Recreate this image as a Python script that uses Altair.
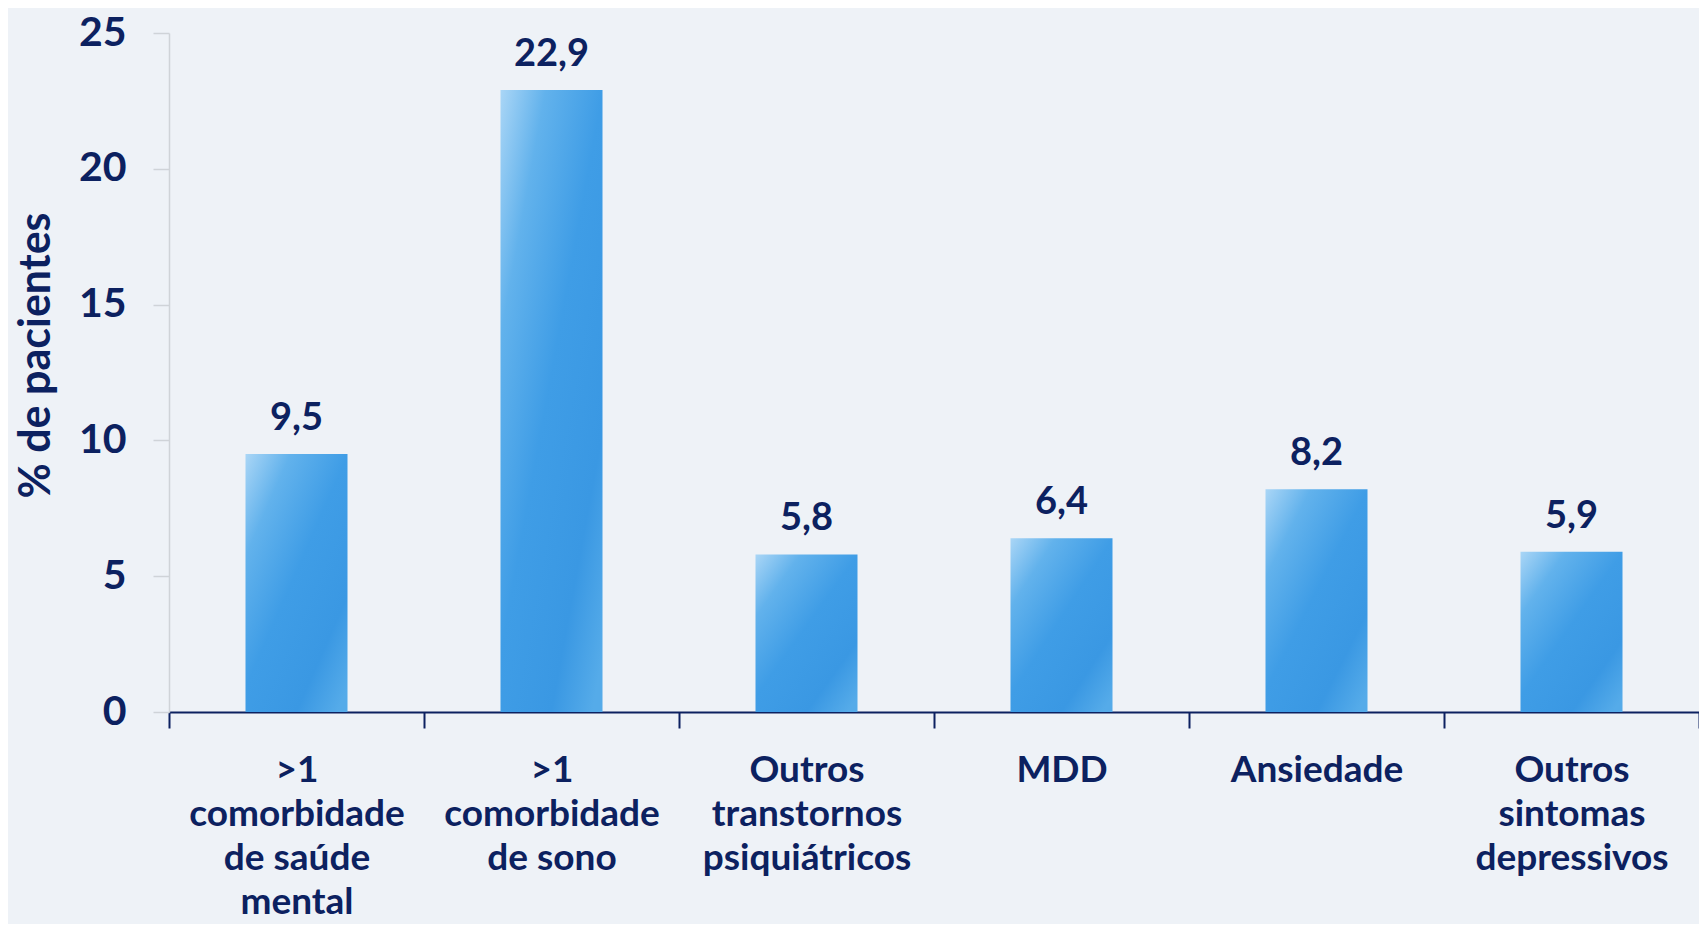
import altair as alt
import pandas as pd

categories = [
    ">1|comorbidade|de saúde|mental",
    ">1|comorbidade|de sono",
    "Outros|transtornos|psiquiátricos",
    "MDD",
    "Ansiedade",
    "Outros|sintomas|depressivos",
]
values = [9.5, 22.9, 5.8, 6.4, 8.2, 5.9]
y_ticks = [0, 5, 10, 15, 20, 25]

df = pd.DataFrame({"cat": categories, "val": values})

NAVY = "#0c2160"
FONT = "Lato"

bar_fill = alt.Gradient(
    gradient="linear",
    stops=[
        alt.GradientStop(color="#aad6f6", offset=0),
        alt.GradientStop(color="#62b2ec", offset=0.22),
        alt.GradientStop(color="#3f9de6", offset=0.5),
        alt.GradientStop(color="#3a98e3", offset=0.8),
        alt.GradientStop(color="#55abe9", offset=1),
    ],
    x1=0, y1=0, x2=0.9, y2=1,
)

y_scale = alt.Scale(domain=[0, 25], nice=False, zero=True)
x_scale = alt.Scale(paddingInner=0, paddingOuter=0)

x_enc = alt.X(
    "cat:N",
    sort=categories,
    scale=x_scale,
    axis=alt.Axis(
        title=None,
        labelExpr="split(datum.label, '|')",
        labelAngle=0,
        labelFont=FONT,
        labelFontSize=37,
        labelFontWeight="bold",
        labelColor=NAVY,
        labelLineHeight=44,
        labelPadding=24,
        labelBaseline="top",
        labelLimit=0,
        tickBand="extent",
        tickColor=NAVY,
        tickSize=16,
        tickWidth=2,
        domainColor=NAVY,
        domainWidth=2,
    ),
)
y_enc = alt.Y(
    "val:Q",
    scale=y_scale,
    axis=alt.Axis(
        title="% de pacientes",
        values=y_ticks,
        grid=False,
        labelFont=FONT,
        labelFontSize=41,
        labelFontWeight="bold",
        labelColor=NAVY,
        labelPadding=27,
        tickColor="#cfd3d8",
        tickSize=16,
        tickWidth=1.5,
        domainColor="#cfd3d8",
        domainWidth=1.5,
        titleFont=FONT,
        titleFontSize=43,
        titleFontWeight="bold",
        titleColor=NAVY,
        titleAngle=-90,
        titleAlign="center",
        titleBaseline="middle",
        titleX=-133,
        titleY=322,
    ),
)

bars = alt.Chart(df).mark_bar(
    color=bar_fill, width=alt.RelativeBandSize(0.4)
).encode(x=x_enc, y=y_enc)

text = alt.Chart(df).transform_calculate(
    lab="replace(format(datum.val, '.1f'), '.', ',')"
).mark_text(
    font=FONT, fontSize=38, fontWeight="bold", color=NAVY, baseline="alphabetic", dy=-24
).encode(
    x=alt.X("cat:N", sort=categories, scale=x_scale),
    y=alt.Y("val:Q", scale=y_scale),
    text="lab:N",
)

chart = (
    (bars + text)
    .properties(
        width=1530,
        height=679,
        background="#eef2f7",
        padding={"left": 161, "top": 25, "right": 0, "bottom": 212},
        autosize=alt.AutoSizeParams(type="none"),
    )
    .configure_view(stroke=None)
)

chart.save("out.html", embed_options={"renderer": "svg", "actions": False})
